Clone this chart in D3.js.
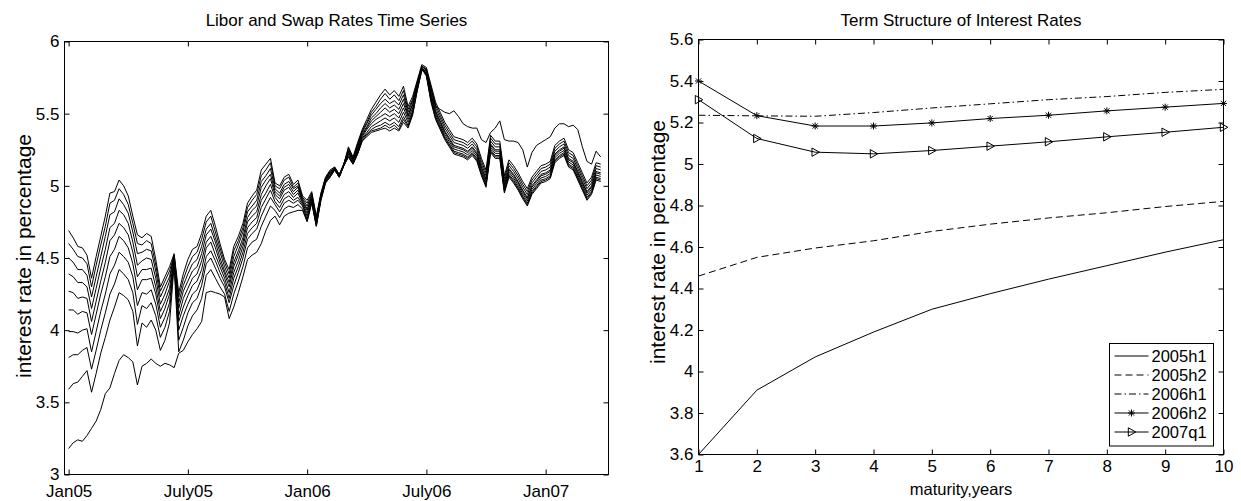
<!DOCTYPE html>
<html>
<head>
<meta charset="utf-8">
<script src="https://cdn.jsdelivr.net/npm/d3@7"></script>
<style>
  body { margin: 0; background: #fff; }
  svg { display: block; font-family: "Liberation Sans", Arial, Helvetica, sans-serif; }
</style>
</head>
<body>
<svg id="chart"></svg>
<script>
// weekly rates, first point = first week of Jan 2005 (26 weeks per half year)
const libor1y = [
  3.18, 3.22, 3.24, 3.23, 3.27, 3.32, 3.37, 3.45, 3.56, 3.60, 3.70, 3.79, 3.83, 3.81, 3.78, 3.62, 3.75, 3.77, 3.80, 3.77, 3.75, 3.77, 3.76, 3.74, 3.84, 3.86,
  3.92, 3.97, 4.01, 4.06, 4.26, 4.27, 4.26, 4.25, 4.23, 4.08, 4.16, 4.26, 4.37, 4.49, 4.52, 4.54, 4.60, 4.69, 4.76, 4.79, 4.73, 4.79, 4.81, 4.82, 4.83, 4.83,
  4.75, 4.88, 4.72, 4.90, 5.02, 5.06, 5.11, 5.06, 5.14, 5.20, 5.15, 5.22, 5.31, 5.34, 5.37, 5.38, 5.39, 5.40, 5.38, 5.40, 5.38, 5.44, 5.40, 5.49, 5.66, 5.80,
  5.80, 5.68, 5.55, 5.53, 5.51, 5.50, 5.52, 5.48, 5.43, 5.41, 5.40, 5.40, 5.32, 5.30, 5.37, 5.40, 5.45, 5.32, 5.31, 5.31, 5.30, 5.25, 5.13, 5.23, 5.28, 5.30, 5.32, 5.34, 5.40, 5.43, 5.43, 5.41, 5.42, 5.39, 5.27, 5.17, 5.15, 5.24, 5.20
];
const swap2y = [
  3.59, 3.63, 3.64, 3.68, 3.72, 3.57, 3.70, 3.84, 3.95, 4.07, 4.16, 4.26, 4.24, 4.21, 4.13, 3.89, 4.05, 4.02, 4.07, 4.00, 3.86, 3.93, 4.05, 4.45, 3.85, 3.93,
  4.03, 4.10, 4.14, 4.22, 4.38, 4.42, 4.36, 4.30, 4.25, 4.13, 4.25, 4.34, 4.44, 4.57, 4.61, 4.63, 4.72, 4.79, 4.86, 4.83, 4.78, 4.84, 4.86, 4.85, 4.87, 4.84,
  4.76, 4.89, 4.72, 4.90, 5.02, 5.06, 5.11, 5.06, 5.14, 5.20, 5.15, 5.22, 5.31, 5.35, 5.38, 5.39, 5.40, 5.42, 5.40, 5.42, 5.39, 5.46, 5.41, 5.50, 5.66, 5.80,
  5.785, 5.63, 5.51, 5.44, 5.37, 5.32, 5.27, 5.26, 5.25, 5.23, 5.26, 5.22, 5.12, 5.04, 5.28, 5.24, 5.24, 5.00, 5.11, 5.07, 5.02, 4.96, 4.91, 4.99, 5.03, 5.07, 5.08, 5.10, 5.21, 5.24, 5.26, 5.18, 5.16, 5.09, 5.02, 4.95, 4.99, 5.09, 5.08
];
const swap3y = [
  3.81, 3.83, 3.83, 3.86, 3.88, 3.73, 3.86, 4.00, 4.12, 4.25, 4.32, 4.42, 4.39, 4.35, 4.26, 4.04, 4.17, 4.15, 4.19, 4.10, 3.95, 4.02, 4.13, 4.47, 3.93, 4.02,
  4.12, 4.19, 4.22, 4.31, 4.46, 4.50, 4.43, 4.36, 4.30, 4.19, 4.31, 4.40, 4.50, 4.63, 4.67, 4.70, 4.79, 4.86, 4.92, 4.87, 4.82, 4.88, 4.90, 4.88, 4.90, 4.86,
  4.77, 4.89, 4.73, 4.91, 5.03, 5.07, 5.11, 5.06, 5.14, 5.21, 5.16, 5.23, 5.32, 5.36, 5.39, 5.41, 5.42, 5.44, 5.42, 5.44, 5.41, 5.48, 5.42, 5.51, 5.67, 5.81,
  5.77, 5.60, 5.48, 5.41, 5.34, 5.29, 5.24, 5.23, 5.22, 5.20, 5.23, 5.19, 5.09, 5.01, 5.25, 5.21, 5.21, 4.97, 5.08, 5.04, 4.99, 4.93, 4.88, 4.96, 5.00, 5.04, 5.05, 5.07, 5.18, 5.21, 5.23, 5.15, 5.13, 5.06, 4.99, 4.92, 4.96, 5.06, 5.05
];
const swap4y = [
  3.99, 3.99, 3.98, 4.00, 4.01, 3.85, 3.99, 4.13, 4.25, 4.39, 4.45, 4.54, 4.51, 4.47, 4.37, 4.17, 4.26, 4.25, 4.28, 4.18, 4.02, 4.09, 4.19, 4.48, 4.00, 4.10,
  4.18, 4.25, 4.28, 4.36, 4.51, 4.55, 4.48, 4.40, 4.33, 4.22, 4.36, 4.44, 4.54, 4.67, 4.71, 4.74, 4.85, 4.91, 4.97, 4.89, 4.85, 4.91, 4.93, 4.90, 4.92, 4.87,
  4.79, 4.90, 4.74, 4.91, 5.03, 5.07, 5.12, 5.07, 5.14, 5.22, 5.16, 5.24, 5.33, 5.37, 5.41, 5.43, 5.45, 5.47, 5.45, 5.47, 5.44, 5.51, 5.44, 5.52, 5.68, 5.81,
  5.76, 5.58, 5.46, 5.39, 5.32, 5.27, 5.22, 5.21, 5.20, 5.18, 5.21, 5.17, 5.07, 4.99, 5.23, 5.19, 5.19, 4.95, 5.06, 5.02, 4.97, 4.91, 4.86, 4.94, 4.98, 5.02, 5.03, 5.05, 5.16, 5.19, 5.21, 5.13, 5.11, 5.04, 4.97, 4.90, 4.94, 5.04, 5.03
];
const swap5y = [
  4.14, 4.14, 4.11, 4.13, 4.12, 3.97, 4.11, 4.25, 4.37, 4.51, 4.56, 4.65, 4.62, 4.57, 4.46, 4.28, 4.35, 4.35, 4.36, 4.25, 4.08, 4.15, 4.25, 4.49, 4.06, 4.16,
  4.24, 4.31, 4.34, 4.42, 4.57, 4.61, 4.52, 4.44, 4.36, 4.26, 4.40, 4.48, 4.58, 4.71, 4.75, 4.78, 4.90, 4.95, 5.01, 4.92, 4.88, 4.94, 4.96, 4.92, 4.95, 4.88,
  4.81, 4.91, 4.75, 4.92, 5.04, 5.08, 5.12, 5.07, 5.14, 5.23, 5.17, 5.25, 5.34, 5.39, 5.43, 5.46, 5.48, 5.50, 5.48, 5.50, 5.47, 5.54, 5.46, 5.54, 5.69, 5.82,
  5.765, 5.59, 5.47, 5.40, 5.33, 5.28, 5.23, 5.22, 5.21, 5.19, 5.22, 5.18, 5.08, 5.00, 5.24, 5.20, 5.20, 4.96, 5.07, 5.03, 4.98, 4.92, 4.87, 4.95, 4.99, 5.03, 5.04, 5.06, 5.17, 5.20, 5.22, 5.14, 5.12, 5.05, 4.98, 4.91, 4.95, 5.05, 5.04
];
const swap6y = [
  4.27, 4.26, 4.22, 4.23, 4.22, 4.06, 4.20, 4.34, 4.47, 4.62, 4.66, 4.74, 4.71, 4.66, 4.54, 4.37, 4.42, 4.42, 4.43, 4.30, 4.13, 4.20, 4.29, 4.50, 4.10, 4.22,
  4.29, 4.36, 4.39, 4.48, 4.61, 4.65, 4.57, 4.47, 4.39, 4.30, 4.44, 4.52, 4.61, 4.75, 4.79, 4.82, 4.94, 5.00, 5.05, 4.94, 4.91, 4.97, 4.99, 4.94, 4.97, 4.89,
  4.83, 4.92, 4.76, 4.93, 5.04, 5.09, 5.12, 5.07, 5.15, 5.24, 5.18, 5.26, 5.35, 5.40, 5.45, 5.48, 5.51, 5.54, 5.51, 5.53, 5.50, 5.57, 5.48, 5.56, 5.70, 5.82,
  5.777, 5.615, 5.495, 5.425, 5.355, 5.305, 5.255, 5.245, 5.235, 5.215, 5.245, 5.205, 5.105, 5.025, 5.265, 5.225, 5.225, 4.985, 5.095, 5.055, 5.005, 4.945, 4.895, 4.975, 5.015, 5.055, 5.065, 5.085, 5.195, 5.225, 5.245, 5.165, 5.145, 5.075, 5.005, 4.935, 4.975, 5.075, 5.065
];
const swap7y = [
  4.39, 4.37, 4.33, 4.33, 4.30, 4.15, 4.29, 4.43, 4.56, 4.71, 4.74, 4.83, 4.80, 4.74, 4.61, 4.45, 4.48, 4.50, 4.49, 4.36, 4.18, 4.25, 4.34, 4.51, 4.15, 4.27,
  4.34, 4.41, 4.44, 4.53, 4.66, 4.70, 4.61, 4.50, 4.41, 4.33, 4.47, 4.55, 4.64, 4.78, 4.83, 4.86, 4.99, 5.04, 5.08, 4.96, 4.93, 4.99, 5.01, 4.96, 4.99, 4.90,
  4.84, 4.93, 4.76, 4.93, 5.04, 5.09, 5.12, 5.07, 5.15, 5.24, 5.18, 5.27, 5.36, 5.41, 5.47, 5.50, 5.54, 5.57, 5.54, 5.56, 5.53, 5.60, 5.49, 5.57, 5.70, 5.82,
  5.79, 5.64, 5.52, 5.45, 5.38, 5.33, 5.28, 5.27, 5.26, 5.24, 5.27, 5.23, 5.13, 5.05, 5.29, 5.25, 5.25, 5.01, 5.12, 5.08, 5.03, 4.97, 4.92, 5.00, 5.04, 5.08, 5.09, 5.11, 5.22, 5.25, 5.27, 5.19, 5.17, 5.10, 5.03, 4.96, 5.00, 5.10, 5.09
];
const swap8y = [
  4.50, 4.47, 4.42, 4.42, 4.38, 4.23, 4.37, 4.51, 4.65, 4.80, 4.82, 4.91, 4.87, 4.81, 4.68, 4.53, 4.54, 4.56, 4.55, 4.41, 4.23, 4.30, 4.37, 4.52, 4.19, 4.31,
  4.39, 4.46, 4.49, 4.58, 4.70, 4.74, 4.64, 4.54, 4.44, 4.36, 4.51, 4.59, 4.68, 4.82, 4.86, 4.90, 5.03, 5.07, 5.12, 4.98, 4.95, 5.01, 5.03, 4.98, 5.00, 4.91,
  4.86, 4.94, 4.77, 4.94, 5.05, 5.10, 5.12, 5.07, 5.15, 5.25, 5.19, 5.28, 5.37, 5.43, 5.49, 5.53, 5.57, 5.60, 5.57, 5.59, 5.56, 5.63, 5.51, 5.59, 5.71, 5.83,
  5.80, 5.66, 5.54, 5.47, 5.40, 5.35, 5.30, 5.29, 5.28, 5.26, 5.29, 5.25, 5.15, 5.07, 5.31, 5.27, 5.27, 5.03, 5.14, 5.10, 5.05, 4.99, 4.94, 5.02, 5.06, 5.10, 5.11, 5.13, 5.24, 5.27, 5.29, 5.21, 5.19, 5.12, 5.05, 4.98, 5.02, 5.12, 5.11
];
const swap9y = [
  4.60, 4.56, 4.51, 4.50, 4.46, 4.30, 4.45, 4.59, 4.72, 4.88, 4.90, 4.98, 4.94, 4.87, 4.74, 4.60, 4.59, 4.62, 4.60, 4.45, 4.27, 4.34, 4.41, 4.52, 4.23, 4.35,
  4.44, 4.51, 4.54, 4.63, 4.75, 4.79, 4.68, 4.57, 4.47, 4.39, 4.55, 4.62, 4.71, 4.85, 4.90, 4.94, 5.07, 5.11, 5.16, 5.00, 4.98, 5.04, 5.06, 4.99, 5.02, 4.92,
  4.88, 4.95, 4.78, 4.94, 5.05, 5.10, 5.13, 5.08, 5.15, 5.26, 5.19, 5.29, 5.38, 5.44, 5.51, 5.55, 5.60, 5.64, 5.60, 5.63, 5.59, 5.66, 5.53, 5.60, 5.72, 5.83,
  5.81, 5.68, 5.56, 5.49, 5.42, 5.37, 5.32, 5.31, 5.30, 5.28, 5.31, 5.27, 5.17, 5.09, 5.33, 5.29, 5.29, 5.05, 5.16, 5.12, 5.07, 5.01, 4.96, 5.04, 5.08, 5.12, 5.13, 5.15, 5.26, 5.29, 5.31, 5.23, 5.21, 5.14, 5.07, 5.00, 5.04, 5.14, 5.13
];
const swap10y = [
  4.69, 4.64, 4.58, 4.57, 4.52, 4.36, 4.51, 4.65, 4.79, 4.95, 4.96, 5.04, 5.00, 4.93, 4.79, 4.66, 4.64, 4.67, 4.65, 4.49, 4.30, 4.37, 4.44, 4.53, 4.26, 4.39,
  4.49, 4.56, 4.58, 4.67, 4.79, 4.83, 4.72, 4.60, 4.49, 4.42, 4.58, 4.65, 4.74, 4.88, 4.93, 4.97, 5.11, 5.15, 5.19, 5.02, 5.00, 5.06, 5.08, 5.01, 5.04, 4.93,
  4.90, 4.96, 4.79, 4.95, 5.06, 5.11, 5.13, 5.08, 5.15, 5.27, 5.20, 5.30, 5.39, 5.46, 5.53, 5.58, 5.63, 5.67, 5.63, 5.66, 5.62, 5.69, 5.55, 5.62, 5.73, 5.84,
  5.82, 5.70, 5.58, 5.51, 5.44, 5.39, 5.34, 5.33, 5.32, 5.30, 5.33, 5.29, 5.19, 5.11, 5.35, 5.31, 5.31, 5.07, 5.18, 5.14, 5.09, 5.03, 4.98, 5.06, 5.10, 5.14, 5.15, 5.17, 5.28, 5.31, 5.33, 5.25, 5.23, 5.16, 5.09, 5.02, 5.06, 5.16, 5.15
];
const rateSeries = [libor1y, swap2y, swap3y, swap4y, swap5y, swap6y, swap7y, swap8y, swap9y, swap10y];

const weekTicks = [0, 26, 52, 78, 104];
const weekTickLabels = ["Jan05", "July05", "Jan06", "July06", "Jan07"];
const leftRateTicks = [3, 3.5, 4, 4.5, 5, 5.5, 6];

// term structure, average over each period
const maturities = [1, 2, 3, 4, 5, 6, 7, 8, 9, 10];
const curve2005h1 = [3.60, 3.91, 4.07, 4.19, 4.30, 4.375, 4.445, 4.51, 4.575, 4.635];
const curve2005h2 = [4.46, 4.55, 4.595, 4.63, 4.675, 4.71, 4.74, 4.765, 4.795, 4.82];
const curve2006h1 = [5.235, 5.232, 5.23, 5.248, 5.27, 5.29, 5.31, 5.325, 5.345, 5.36];
const curve2006h2 = [5.40, 5.233, 5.183, 5.183, 5.198, 5.219, 5.235, 5.256, 5.274, 5.292];
const curve2007q1 = [5.31, 5.123, 5.057, 5.049, 5.065, 5.086, 5.107, 5.131, 5.153, 5.177];
const periodNames = ["2005h1", "2005h2", "2006h1", "2006h2", "2007q1"];
const rightRateTicks = [3.6, 3.8, 4, 4.2, 4.4, 4.6, 4.8, 5, 5.2, 5.4, 5.6];

const width = 1241;
const height = 501;
const tickLen = 5;

const svg = d3.select("#chart")
  .attr("width", width)
  .attr("height", height);

// matlab-like box with inward ticks on all four sides
function drawFrame(x, y, xTicks, xFormat, yTicks, yFormat, xPad) {
  const [x0, x1] = x.range();
  const [y0, y1] = y.range(); // y0 bottom, y1 top
  const g = svg.append("g");

  g.append("g")
    .attr("transform", `translate(0,${y0})`)
    .call(d3.axisBottom(x).tickValues(xTicks).tickFormat(xFormat)
      .tickSizeInner(-tickLen).tickSizeOuter(0).tickPadding(xPad));
  g.append("g")
    .attr("transform", `translate(0,${y1})`)
    .call(d3.axisTop(x).tickValues(xTicks).tickFormat("")
      .tickSizeInner(-tickLen).tickSizeOuter(0));
  g.append("g")
    .attr("transform", `translate(${x0},0)`)
    .call(d3.axisLeft(y).tickValues(yTicks).tickFormat(yFormat)
      .tickSizeInner(-tickLen).tickSizeOuter(0).tickPadding(5));
  g.append("g")
    .attr("transform", `translate(${x1},0)`)
    .call(d3.axisRight(y).tickValues(yTicks).tickFormat("")
      .tickSizeInner(-tickLen).tickSizeOuter(0));

  g.selectAll(".domain").remove();
  g.selectAll(".tick line").attr("stroke", "#000");
  g.selectAll(".tick text")
    .attr("fill", "#000")
    .style("font-size", "17px");

  g.append("rect")
    .attr("x", x0)
    .attr("y", y1)
    .attr("width", x1 - x0)
    .attr("height", y0 - y1)
    .attr("fill", "none")
    .attr("stroke", "#000");
  return g;
}

function addTitles(x, y, title, xlabel, ylabelShift) {
  const [x0, x1] = x.range();
  const [y0, y1] = y.range();
  const cx = (x0 + x1) / 2;
  svg.append("text")
    .attr("x", cx)
    .attr("y", 26)
    .attr("text-anchor", "middle")
    .style("font-size", "17px")
    .text(title);
  svg.append("text")
    .attr("transform", `translate(${x0 - 34},${(y0 + y1) / 2 + ylabelShift}) rotate(-90)`)
    .attr("text-anchor", "middle")
    .style("font-size", "21px")
    .text("interest rate in percentage");
  if (xlabel) {
    svg.append("text")
      .attr("x", cx)
      .attr("y", 495)
      .attr("text-anchor", "middle")
      .style("font-size", "16.5px")
      .text(xlabel);
  }
}

// ---------- left: time series ----------
const xTime = d3.scaleLinear().domain([-0.9, 117.7]).range([64.5, 608.5]);
const yLeft = d3.scaleLinear().domain([3, 6]).range([474.5, 41.5]);

const seriesLine = d3.line()
  .x((d, i) => xTime(i))
  .y(d => yLeft(d));

svg.append("g")
  .selectAll("path")
  .data(rateSeries)
  .join("path")
  .attr("d", seriesLine)
  .attr("fill", "none")
  .attr("stroke", "#000")
  .attr("stroke-width", 1);

drawFrame(xTime, yLeft, weekTicks, (d, i) => weekTickLabels[i], leftRateTicks, d => String(d), 10);
addTitles(xTime, yLeft, "Libor and Swap Rates Time Series", null, -2);

// ---------- right: term structure ----------
const xMat = d3.scaleLinear().domain([1, 10]).range([698.5, 1223.5]);
const yRight = d3.scaleLinear().domain([3.6, 5.6]).range([454.5, 39.5]);

const curves = [curve2005h1, curve2005h2, curve2006h1, curve2006h2, curve2007q1];
const curveStyles = [
  { dash: null, marker: null },
  { dash: "7,4", marker: null },
  { dash: "7,3,1.5,3", marker: null },
  { dash: null, marker: "star" },
  { dash: null, marker: "tri" }
];
const markerPath = {
  star: "M-3.5,0H3.5M0,-3.5V3.5M-2.6,-2.6L2.6,2.6M-2.6,2.6L2.6,-2.6",
  tri: "M-3.2,-4.2L4.3,0L-3.2,4.2Z"
};

const curveLine = d3.line()
  .x((d, i) => xMat(maturities[i]))
  .y(d => yRight(d));

const curveG = svg.append("g")
  .selectAll("g")
  .data(curves)
  .join("g");

curveG.append("path")
  .attr("d", curveLine)
  .attr("fill", "none")
  .attr("stroke", "#000")
  .attr("stroke-width", 1)
  .attr("stroke-dasharray", (d, i) => curveStyles[i].dash);

curveG.each(function (d, i) {
  const m = curveStyles[i].marker;
  if (!m) return;
  d3.select(this).selectAll(".mk")
    .data(d)
    .join("path")
    .attr("class", "mk")
    .attr("transform", (v, j) => `translate(${xMat(maturities[j])},${yRight(v)})`)
    .attr("d", markerPath[m])
    .attr("fill", "none")
    .attr("stroke", "#000")
    .attr("stroke-width", 1);
});

drawFrame(xMat, yRight, maturities, d => String(d), rightRateTicks, d3.format("~g"), 5);
addTitles(xMat, yRight, "Term Structure of Interest Rates", "maturity,years", -5);

// legend
const legend = svg.append("g").attr("transform", "translate(1109.5,343.5)");
legend.append("rect")
  .attr("width", 104)
  .attr("height", 102.5)
  .attr("fill", "#fff")
  .attr("stroke", "#000");

const legendRow = legend.selectAll(".row")
  .data(periodNames)
  .join("g")
  .attr("class", "row")
  .attr("transform", (d, i) => `translate(0,${12.5 + i * 19})`);

legendRow.append("line")
  .attr("x1", 5)
  .attr("x2", 39)
  .attr("stroke", "#000")
  .attr("stroke-dasharray", (d, i) => curveStyles[i].dash);

legendRow.filter((d, i) => curveStyles[i].marker)
  .append("path")
  .attr("transform", "translate(22,0)")
  .attr("d", d => markerPath[curveStyles[periodNames.indexOf(d)].marker])
  .attr("fill", "none")
  .attr("stroke", "#000");

legendRow.append("text")
  .attr("x", 42)
  .attr("dy", "0.36em")
  .style("font-size", "16.5px")
  .text(d => d);
</script>
</body>
</html>
